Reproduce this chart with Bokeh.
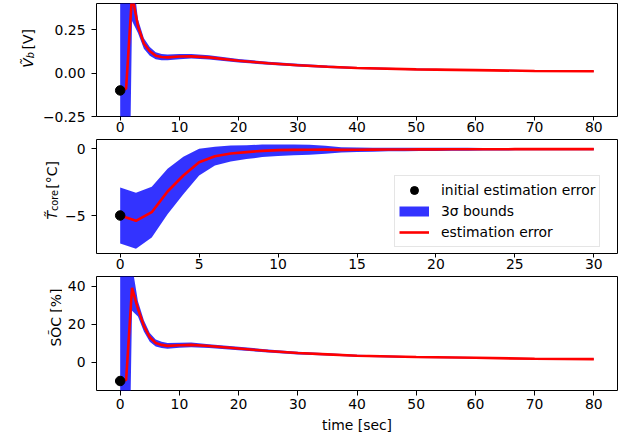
import math
import numpy as np
from bokeh.plotting import figure
from bokeh.models import (FixedTicker, CustomJSTickFormatter, Legend,
                          LegendItem, Range1d)
from bokeh.layouts import column, row
from bokeh.core.properties import value
from bokeh.embed import file_html
from bokeh.resources import INLINE

# ---------------- data ----------------
t_long = [0, 1, 2, 3, 4, 5, 6, 7, 8, 10, 12, 15, 20, 25, 30, 35, 40, 50, 60, 70, 80]
v_err = [-0.10, -0.09, 0.45, 0.27, 0.17, 0.125, 0.10, 0.092, 0.09, 0.095, 0.096, 0.09,
         0.071, 0.056, 0.045, 0.036, 0.029, 0.021, 0.017, 0.012, 0.010]
v_3sig = [2.0, 2.0, 0.15, 0.04, 0.03, 0.025, 0.02, 0.018, 0.016, 0.015, 0.013, 0.012,
          0.010, 0.009, 0.008, 0.007, 0.006, 0.005, 0.004, 0.004, 0.003]
soc_err = [-10.0, -9.5, 39.0, 28.0, 19.0, 13.0, 10.0, 9.0, 8.5, 8.8, 9.0, 8.4,
           7.1, 5.8, 4.7, 4.0, 3.3, 2.6, 2.2, 1.7, 1.5]
soc_3sig = [150, 150, 12, 4, 3, 2.3, 1.8, 1.6, 1.5, 1.3, 1.2, 1.0,
            0.9, 0.8, 0.7, 0.6, 0.5, 0.45, 0.4, 0.35, 0.3]
t_short = list(range(31))
tc_err = [-5.0, -5.4, -4.75, -3.2, -2.0, -1.0, -0.55, -0.35, -0.25, -0.15, -0.10,
          -0.08, -0.07, -0.06, -0.08, -0.07, -0.06, -0.05, -0.05, -0.04, -0.04,
          -0.035, -0.03, -0.03, -0.03, -0.025, -0.025, -0.02, -0.02, -0.02, -0.02]
tc_3sig = [2.1, 2.1, 1.9, 1.7, 1.4, 1.0, 0.7, 0.6, 0.52, 0.47, 0.43,
           0.40, 0.37, 0.30, 0.20, 0.17, 0.15, 0.14, 0.13, 0.12, 0.12,
           0.11, 0.11, 0.10, 0.10, 0.09, 0.09, 0.09, 0.08, 0.08, 0.08]
init_v, init_tc, init_soc = -0.10, -5.0, -10.0

xticks_long = [0, 10, 20, 30, 40, 50, 60, 70, 80]
xticks_short = [0, 5, 10, 15, 20, 25, 30]
yticks_v = [-0.25, 0.0, 0.25]
yticks_tc = [-5, 0]
yticks_soc = [0, 20, 40]

legend_labels = ["initial estimation error", "3\u03c3 bounds", "estimation error"]
xlabel_text = "time [sec]"

# ---------------- layout constants ----------------
FONT = "DejaVu Sans"
FS = "13.9px"
SUB = "9.7px"
TOTAL_W = 620
FRAME_L = 96
BR = 3
SPACE = 4.4  # width of a space at 13.9px


def fmt(dec):
    return CustomJSTickFormatter(code=(
        "const s = Math.abs(tick).toFixed(%d);"
        "return (tick < -1e-12 ? '\\u2212' : '') + s;" % dec))


def make_fig(lw, top, fh, bottom, xr, yr, xt, yt, ydec, xlabel=None):
    p = figure(width=TOTAL_W - lw, height=top + fh + bottom,
               output_backend="svg", toolbar_location=None,
               x_range=Range1d(*xr), y_range=Range1d(*yr),
               min_border_left=FRAME_L - lw, min_border_right=BR,
               min_border_top=top, min_border_bottom=bottom)
    p.background_fill_color = "white"
    p.border_fill_color = "white"
    p.outline_line_color = "black"
    p.outline_line_width = 1
    p.grid.visible = False
    for ax in (p.xaxis[0], p.yaxis[0]):
        ax.axis_line_color = None
        ax.major_tick_in = 0
        ax.major_tick_out = 5
        ax.major_tick_line_color = "black"
        ax.minor_tick_line_color = None
        ax.major_label_text_font = FONT
        ax.major_label_text_font_size = FS
        ax.major_label_text_color = "black"
    p.xaxis.ticker = FixedTicker(ticks=xt)
    p.yaxis.ticker = FixedTicker(ticks=yt)
    p.yaxis.formatter = fmt(ydec)
    p.yaxis.major_label_standoff = 6
    if xlabel:
        p.xaxis.major_label_standoff = 3
        p.xaxis.axis_label = xlabel
        p.xaxis.axis_label_text_font = FONT
        p.xaxis.axis_label_text_font_size = FS
        p.xaxis.axis_label_text_font_style = "normal"
        p.xaxis.axis_label_text_color = "black"
        p.xaxis.axis_label_standoff = 5
    else:
        p.xaxis.major_tick_out = 4
        p.xaxis.major_label_standoff = 1
    return p


def label_fig(lw, h, pieces):
    """Narrow figure holding the rotated y-axis label (pixel coordinates)."""
    q = figure(width=lw, height=h, output_backend="svg", toolbar_location=None,
               x_range=Range1d(0, lw), y_range=Range1d(h, 0),
               x_axis_location=None, y_axis_location=None,
               min_border=0, min_border_left=0, min_border_right=0,
               min_border_top=0, min_border_bottom=0)
    q.outline_line_color = None
    q.grid.visible = False
    q.background_fill_color = "white"
    q.border_fill_color = "white"
    for (txt, sx, sy, size, style, align) in pieces:
        q.text(x=[sx], y=[sy], text=[txt], angle=math.pi / 2,
               text_font=value(FONT), text_font_size=value(size),
               text_font_style=style, text_align=align,
               text_baseline="alphabetic", text_color="black")
    return q


def draw(p, t, err, sig, init):
    lo = [e - s for e, s in zip(err, sig)]
    hi = [e + s for e, s in zip(err, sig)]
    band = p.varea(x=t, y1=lo, y2=hi, fill_color="#0000ff", fill_alpha=0.8)
    line = p.line(t, err, line_color="#ff0000", line_width=2.6)
    dot = p.scatter([t[0]], [init], size=9.5, fill_color="black", line_color="black")
    return band, line, dot


xr_long = (-4, 84)
xr_short = (-1.5, 31.5)
yr_v = (-0.25, 0.40)
yr_tc = (-7.85, 0.70)
yr_soc = (-15, 45)

# ---------------- top panel ----------------
LW1, T1, H1, B1 = 36, 3, 113, 22
p1 = make_fig(LW1, T1, H1, B1, xr_long, yr_v, xticks_long, yticks_v, 2)
draw(p1, t_long, v_err, v_3sig, init_v)
J, sx = 67, 27.5
q1 = label_fig(LW1, T1 + H1 + B1, [
    ("\u1e7c", sx, J, FS, "italic", "right"),
    ("b", sx + 2.8, J, SUB, "italic", "left"),
    ("[V]", sx, J - 6.5 - SPACE, FS, "normal", "left"),
])

# ---------------- middle panel ----------------
LW2, T2, H2, B2 = 60, 1, 114, 22
p2 = make_fig(LW2, T2, H2, B2, xr_short, yr_tc, xticks_short, yticks_tc, 0)
band, line, dot = draw(p2, t_short, tc_err, tc_3sig, init_tc)
J, sx = 86, 51.5
q2 = label_fig(LW2, T2 + H2 + B2, [
    ("T\u0303", sx, J, FS, "italic", "right"),
    ("core", sx + 2.5, J, SUB, "normal", "left"),
    ("[\u00b0C]", sx, J - 22.5 - SPACE, FS, "normal", "left"),
])

proxy_band = p2.line(np.array([np.nan]), np.array([np.nan]), line_color="#0000ff",
                     line_alpha=0.8, line_width=10, line_cap="butt")
legend = Legend(items=[LegendItem(label=legend_labels[0], renderers=[dot]),
                       LegendItem(label=legend_labels[1], renderers=[proxy_band]),
                       LegendItem(label=legend_labels[2], renderers=[line])],
                location=(298, 6), margin=0, padding=4, spacing=1,
                glyph_width=30, glyph_height=20, label_height=20,
                label_standoff=12, label_text_font=FONT, label_text_font_size=FS,
                label_text_color="black", border_line_color="#cccccc",
                border_line_width=1, background_fill_color="white",
                background_fill_alpha=0.8)
p2.add_layout(legend)

# ---------------- bottom panel ----------------
LW3, T3, H3, B3 = 62, 1, 114, 46
p3 = make_fig(LW3, T3, H3, B3, xr_long, yr_soc, xticks_long, yticks_soc, 0,
              xlabel=xlabel_text)
draw(p3, t_long, soc_err, soc_3sig, init_soc)
q3 = label_fig(LW3, T3 + H3 + B3, [
    ("S\u00d5C [%]", 55, T3 + H3 / 2, FS, "normal", "center"),
])

layout = column(row(q1, p1, spacing=0), row(q2, p2, spacing=0),
                row(q3, p3, spacing=0), spacing=0)
open("out.html", "w").write(file_html(layout, INLINE))
